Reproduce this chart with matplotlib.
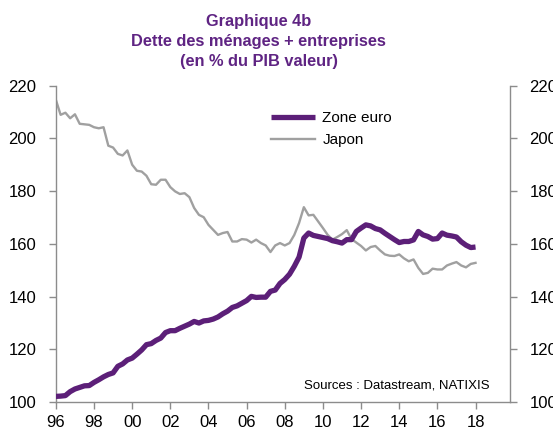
import matplotlib
matplotlib.use("Agg")
import matplotlib.pyplot as plt
import numpy as np

plt.rcParams['font.family'] = ['Liberation Sans', 'DejaVu Sans']

start_year = 1996.0
step = 0.25

zone_euro = [
    102.2, 102.3, 102.5, 104.0, 105.0, 105.6, 106.2, 106.3,
    107.5, 108.5, 109.6, 110.5, 111.1, 113.6, 114.5, 116.0,
    116.7, 118.2, 119.8, 121.8, 122.2, 123.4, 124.3, 126.4,
    127.1, 127.1, 128.0, 128.8, 129.6, 130.6, 130.0, 130.8,
    131.0, 131.5, 132.3, 133.5, 134.5, 135.9, 136.5, 137.5,
    138.5, 140.1, 139.7, 139.8, 139.8, 142.0, 142.5, 145.0,
    146.5, 148.5, 151.5, 155.0, 162.2, 164.1, 163.2, 162.8,
    162.4, 162.0, 161.2, 160.8, 160.3, 161.6, 161.6, 164.7,
    166.0, 167.2, 166.8, 165.8, 165.3, 164.0, 162.8, 161.6,
    160.5, 160.9, 160.9, 161.5, 164.7, 163.4, 162.8, 161.8,
    162.0, 164.1, 163.3, 163.0, 162.6, 160.8, 159.5, 158.6,
    158.8,
]

japon = [
    214.6, 208.9, 209.7, 207.6, 209.1, 205.5, 205.3, 205.1,
    204.2, 203.8, 204.2, 197.2, 196.5, 194.1, 193.5, 195.4,
    190.0, 187.7, 187.4, 185.8, 182.6, 182.4, 184.3, 184.3,
    181.5, 179.9, 178.9, 179.2, 177.7, 173.6, 171.0, 170.1,
    167.2, 165.3, 163.4, 164.1, 164.5, 160.9, 160.9, 161.8,
    161.6, 160.5, 161.6, 160.3, 159.4, 156.9, 159.4, 160.3,
    159.4, 160.3, 163.4, 167.9, 173.9, 170.8, 171.0, 168.5,
    166.0, 163.4, 161.6, 162.6, 163.7, 165.2, 161.8, 160.5,
    159.2, 157.5, 158.8, 159.2, 157.5, 156.0, 155.5, 155.4,
    156.0, 154.5, 153.4, 154.1, 150.9, 148.6, 149.0, 150.6,
    150.3, 150.3, 151.8, 152.5, 153.1, 151.8, 151.1, 152.4,
    152.8,
]

xtick_years = [1996, 1998, 2000, 2002, 2004, 2006, 2008, 2010, 2012, 2014, 2016, 2018]
xtick_labels = ['96', '98', '00', '02', '04', '06', '08', '10', '12', '14', '16', '18']
yticks = [100, 120, 140, 160, 180, 200, 220]

title_lines = "Graphique 4b\nDette des ménages + entreprises\n(en % du PIB valeur)"
source_text = "Sources : Datastream, NATIXIS"

purple = '#5C1F78'
gray = '#A0A0A0'
axis_gray = '#8C8C8C'

x = start_year + step * np.arange(len(zone_euro))

fig = plt.figure(figsize=(5.53, 4.32), dpi=100)
ax = fig.add_axes([0.101, 0.069, 0.821, 0.733])

ax.plot(x, japon, color=gray, lw=1.7, label='Japon', zorder=2)
ax.plot(x, zone_euro, color=purple, lw=3.8, label='Zone euro', zorder=3,
        solid_capstyle='butt')

ax.set_xlim(1996, 2019.8)
ax.set_ylim(100, 220)
ax.set_xticks(xtick_years)
ax.set_xticklabels(xtick_labels)
ax.set_yticks(yticks)

ax.spines['top'].set_visible(False)
for s in ['left', 'right', 'bottom']:
    ax.spines[s].set_color(axis_gray)
    ax.spines[s].set_linewidth(1.0)

ax.tick_params(axis='both', direction='out', length=5, width=1.0,
               color=axis_gray, labelsize=12, labelcolor='black')
ax.tick_params(axis='y', pad=9, right=True, labelright=True)
ax.tick_params(axis='x', pad=4)

handles, labels = ax.get_legend_handles_labels()
leg = ax.legend(handles[::-1], labels[::-1], loc='upper left',
                bbox_to_anchor=(0.444, 0.962), frameon=False, fontsize=11,
                handlelength=2.85, handletextpad=0.5, labelspacing=0.5)

ax.text(0.956, 0.052, source_text, transform=ax.transAxes, ha='right',
        va='center', fontsize=9.5, color='black')

fig.text(0.468, 0.968, title_lines, ha='center', va='top', fontsize=11.8,
         fontweight='bold', color='#5F2483', linespacing=1.42)

fig.savefig('out.png', dpi=100)
